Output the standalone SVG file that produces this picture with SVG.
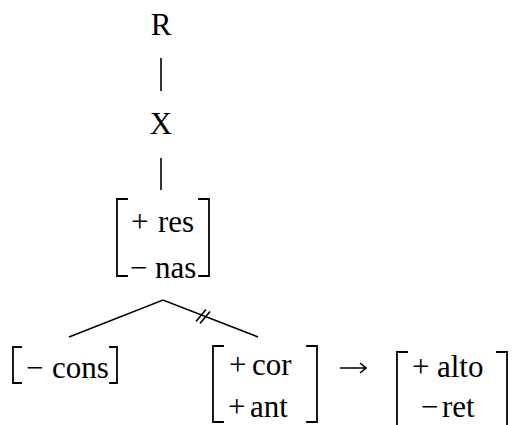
<svg xmlns="http://www.w3.org/2000/svg" width="513" height="425" viewBox="0 0 513 425">
<style>
text{font-family:"Liberation Serif","Times New Roman",serif;font-size:31px;fill:#000}
.m{text-anchor:middle}
.br{fill:none;stroke:#000;stroke-width:1.8;stroke-linecap:square}
.ln{fill:none;stroke:#000;stroke-width:1.6}
</style>
<rect width="513" height="425" fill="#fff"/>
<g id="connectors">
<line class="ln" x1="161" y1="58" x2="161" y2="91"/>
<line class="ln" x1="161" y1="158" x2="161" y2="190"/>
<polyline class="ln" points="69,337 163,300 258,337"/>
<line class="ln" x1="196" y1="321.5" x2="206" y2="309.5"/>
<line class="ln" x1="200" y1="323.5" x2="210" y2="311.5"/>
<path class="ln" d="M340,368 H366 M360,363 L366,368 L360,373"/>
</g>
<g id="node-R"><text class="m" x="161" y="35">R</text></g>
<g id="node-X"><text class="m" x="161" y="134">X</text></g>
<g id="node-res-nas">
<path class="br" d="M127,199 H117 V276 H127 M199,199 H209 V276 H199"/>
<text x="131" y="232">+</text><text x="158" y="232">res</text>
<text x="130" y="278">−</text><text x="155" y="278">nas</text>
</g>
<g id="node-cons">
<path class="br" d="M21,347 H13 V383 H21 M110,347 H117 V383 H110"/>
<text x="26" y="378">−</text><text x="52" y="378">cons</text>
</g>
<g id="node-cor-ant">
<path class="br" d="M223,346 H213 V422 H223 M307,346 H317 V422 H307"/>
<text x="229" y="375">+</text><text x="252" y="375">cor</text>
<text x="228" y="417">+</text><text x="250" y="417">ant</text>
</g>
<g id="node-alto-ret">
<path class="br" d="M407,352 H397 V430 M497,352 H507 V430"/>
<text x="412" y="377">+</text><text x="437" y="377">alto</text>
<text x="421" y="417">−</text><text x="442" y="417">ret</text>
</g>
</svg>
